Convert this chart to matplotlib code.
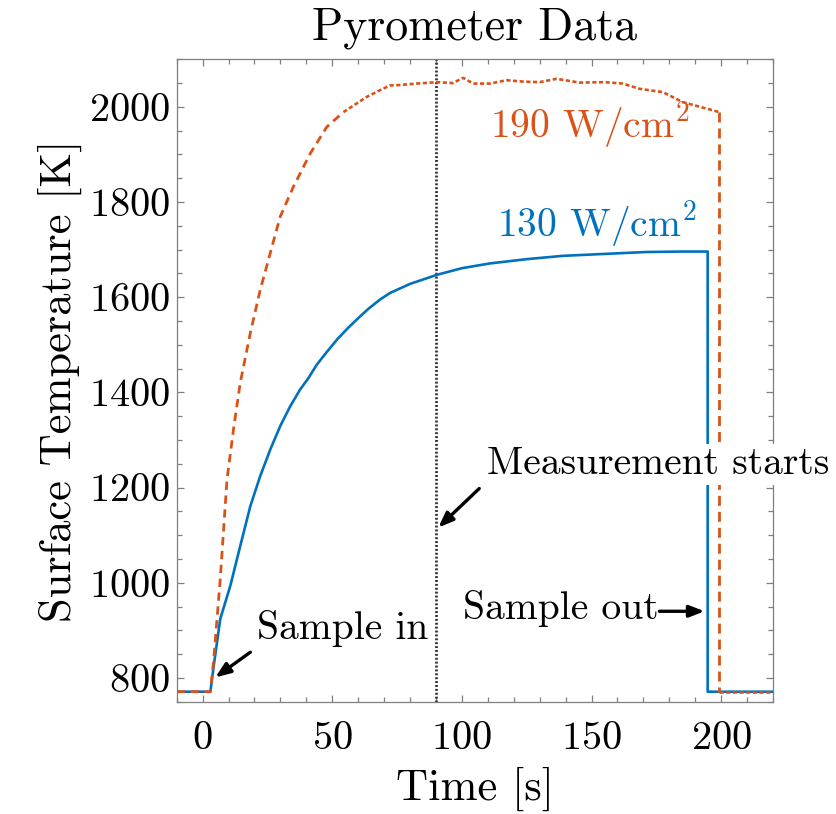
import matplotlib
matplotlib.use("Agg")
import matplotlib.pyplot as plt
import numpy as np

plt.rcParams['font.family'] = 'serif'
plt.rcParams['font.serif'] = ['cmr10']
plt.rcParams['mathtext.fontset'] = 'cm'
plt.rcParams['axes.unicode_minus'] = False
plt.rcParams['axes.formatter.use_mathtext'] = True
plt.rcParams['lines.scale_dashes'] = False

# ---- data ----
t_130 = [-10, 3, 4.3, 6.8, 10.7, 14.5, 18.4, 22.2, 26.1, 30, 33.8, 37.6, 40.8, 44, 47.9, 52,
         56, 60, 64, 68.4, 72.3, 80, 90.3, 100, 110.8, 125, 139, 155, 171, 185, 194.8, 194.8, 220]
T_130 = [771, 771, 826, 924, 994, 1077, 1161, 1224, 1280, 1330, 1371, 1406, 1430, 1458, 1485, 1512,
         1535, 1556, 1576, 1595, 1609, 1628, 1647, 1661, 1671, 1680, 1687, 1691, 1695, 1696, 1696, 771, 771]

t_190 = [-10, 3, 4.3, 6.8, 9.4, 11.9, 14.5, 18.4, 22.2, 26.1, 29.9, 35, 41.5, 47.9, 54.3,
         63.3, 68.4, 72.3, 76.1, 82.6, 90.3, 96.5, 100.5, 104.4, 110.8, 117.2, 124, 130,
         136.5, 145.4, 155, 162, 168.5, 177.5, 185.2, 199.3, 199.3, 220]
T_190 = [771, 771, 840, 1008, 1217, 1322, 1420, 1525, 1615, 1693, 1769, 1832, 1902, 1958, 1989,
         2021, 2035, 2045, 2046, 2049, 2052, 2050, 2061, 2049, 2049, 2056, 2053, 2052,
         2059, 2051, 2052, 2049, 2038, 2031, 2010, 1989, 771, 771]

t_measure = 90
xticks = [0, 50, 100, 150, 200]
yticks = [800, 1000, 1200, 1400, 1600, 1800, 2000]

blue = '#0072BD'
orange = '#D95319'
gray = '#7f7f7f'

fig = plt.figure(figsize=(8.37, 8.14), dpi=100)
ax = fig.add_axes([176.7/837, (814-701.7)/814, (773-176.7)/837, (701.7-59.3)/814])

ax.plot(t_130, T_130, color=blue, lw=1.9, solid_joinstyle='round', zorder=3)

t190 = np.array(t_190); T190 = np.array(T_190)
i_plat0, i_drop0 = 14, 35
ax.plot(t190[:i_plat0+1], T190[:i_plat0+1], color=orange, lw=2.0,
        dashes=(6, 4), zorder=4)
ax.plot(t190[i_plat0:i_drop0+1], T190[i_plat0:i_drop0+1], color=orange, lw=1.9,
        dashes=(3, 1.8), zorder=4)
ax.plot(t190[i_drop0:i_drop0+2], T190[i_drop0:i_drop0+2], color=orange, lw=2.0,
        dashes=(7.2, 4.3), zorder=4)
ax.plot(t190[i_drop0+1:], T190[i_drop0+1:], color=orange, lw=1.9,
        dashes=(3, 1.8), zorder=4)

ax.axvline(t_measure, color='#333333', lw=2.0, dashes=(1.4, 1.4), zorder=2)

ax.set_xlim(-10, 220)
ax.set_ylim(750, 2100)
ax.set_xticks(xticks)
ax.set_yticks(yticks)
ax.set_xticks(np.arange(-10, 221, 10), minor=True)
ax.set_yticks(np.arange(750, 2101, 50), minor=True)
ax.tick_params(which='both', direction='in', top=True, right=True, color=gray,
               labelsize=29, labelcolor='black')
ax.tick_params(axis='x', which='both', pad=14)
ax.tick_params(axis='y', which='both', pad=5)
ax.tick_params(which='major', length=5, width=0.9)
ax.tick_params(which='minor', length=3.5, width=0.9)
for s in ax.spines.values():
    s.set_color(gray)
    s.set_linewidth(0.9)

ax.set_title('Pyrometer Data', fontsize=33, pad=14)
ax.set_xlabel('Time [s]', fontsize=32, labelpad=7)
ax.set_ylabel('Surface Temperature [K]', fontsize=32, labelpad=5)

ax.text(110.8, 1934, r'190 W/cm$^2$', color=orange, fontsize=28.5, va='baseline', zorder=6)
ax.text(113.5, 1727, r'130 W/cm$^2$', color=blue, fontsize=28.5, va='baseline', zorder=6)

arrow = dict(arrowstyle='-|>,head_length=0.9,head_width=0.35', color='black', lw=2.4,
             shrinkA=0, shrinkB=0)
ax.annotate('', xy=(90.9, 1116), xytext=(106.7, 1198), arrowprops=arrow, zorder=7)
ax.text(109.5, 1228, 'Measurement starts', fontsize=28.5, va='baseline', zorder=10,
        clip_on=False, bbox=dict(facecolor='white', edgecolor='none', pad=2))
ax.annotate('', xy=(4.9, 801), xytext=(18.4, 854), arrowprops=arrow, zorder=7)
ax.text(21.1, 882, 'Sample in', fontsize=28.5, va='baseline', zorder=10)
ax.annotate('', xy=(193.6, 940), xytext=(176.2, 940), arrowprops=arrow, zorder=7)
ax.text(100.4, 924, 'Sample out', fontsize=28.5, va='baseline', zorder=10)

fig.text(0.0, 6/814, 'mm.me', fontsize=22, fontweight='bold', family='DejaVu Sans',
         va='top', ha='left')

fig.savefig('out.png', dpi=100)
